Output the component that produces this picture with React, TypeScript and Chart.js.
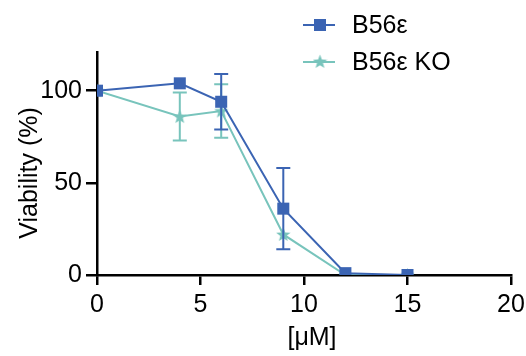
import { useEffect, useRef } from 'react';
import { Chart, registerables } from 'chart.js';

Chart.register(...registerables);

const concentrations = [0, 4, 6, 9, 12, 15];
const b56Values = [100, 104, 94, 36, 1, 0];
const b56Errors = [0, 0, 15, 22, 0, 0];
const koValues = [100, 86, 89, 22, 0, 0];
const koErrors = [0, 13, 14.5, 0, 0, 0];
const xTicks = [0, 5, 10, 15, 20];
const yTicks = [0, 50, 100];
const seriesNames = ['B56ε', 'B56ε KO'];
const xTitle = '[μM]';
const yTitle = 'Viability (%)';

const BLUE = '#3B64B3';
const TEAL = '#78C4BC';
const FONT = "'Liberation Sans', Arial, sans-serif";

function makeStar(color: string, size: number): HTMLCanvasElement {
  const c = document.createElement('canvas');
  c.width = size;
  c.height = size;
  const ctx = c.getContext('2d')!;
  const cx = size / 2;
  const cy = size / 2 + 0.5;
  const outer = size / 2;
  const inner = outer * 0.42;
  ctx.beginPath();
  for (let i = 0; i < 10; i++) {
    const r = i % 2 === 0 ? outer : inner;
    const a = -Math.PI / 2 + (i * Math.PI) / 5;
    const px = cx + r * Math.cos(a);
    const py = cy + r * Math.sin(a);
    if (i === 0) ctx.moveTo(px, py);
    else ctx.lineTo(px, py);
  }
  ctx.closePath();
  ctx.fillStyle = color;
  ctx.fill();
  return c;
}

export default function App() {
  const ref = useRef<HTMLCanvasElement | null>(null);

  useEffect(() => {
    document.body.style.margin = '0';
    const canvas = ref.current;
    if (!canvas) return;
    const star = makeStar(TEAL, 15);
    const errorSets = [b56Errors, koErrors];
    const valueSets = [b56Values, koValues];
    const colors = [BLUE, TEAL];

    const errorBars = {
      id: 'errorBars',
      beforeDatasetDraw(chart: any, args: any) {
        const i = args.index;
        const ctx = chart.ctx;
        const xs = chart.scales.x;
        const ys = chart.scales.y;
        ctx.save();
        ctx.strokeStyle = colors[i];
        ctx.lineWidth = 2;
        concentrations.forEach((c, j) => {
          const e = errorSets[i][j];
          if (!e) return;
          const v = valueSets[i][j];
          const x = xs.getPixelForValue(c);
          const yt = ys.getPixelForValue(v + e);
          const yb = ys.getPixelForValue(v - e);
          ctx.beginPath();
          ctx.moveTo(x, yt);
          ctx.lineTo(x, yb);
          ctx.moveTo(x - 7, yt);
          ctx.lineTo(x + 7, yt);
          ctx.moveTo(x - 7, yb);
          ctx.lineTo(x + 7, yb);
          ctx.stroke();
        });
        ctx.restore();
      },
    };

    const extras = {
      id: 'extras',
      afterDraw(chart: any) {
        const ctx = chart.ctx;
        ctx.save();
        ctx.fillStyle = '#000';
        ctx.font = `25px ${FONT}`;
        ctx.textAlign = 'center';
        ctx.textBaseline = 'middle';
        ctx.fillText(xTitle, 312, 338);
        ctx.save();
        ctx.translate(30, 173);
        ctx.rotate(-Math.PI / 2);
        ctx.fillText(yTitle, 0, 0);
        ctx.restore();
        // legend
        const rows = [25, 62];
        rows.forEach((y, i) => {
          ctx.strokeStyle = colors[i];
          ctx.lineWidth = 2;
          ctx.beginPath();
          ctx.moveTo(303, y);
          ctx.lineTo(335, y);
          ctx.stroke();
          if (i === 0) {
            ctx.fillStyle = BLUE;
            ctx.fillRect(320 - 6, y - 6, 12, 12);
          } else {
            ctx.drawImage(star, 320 - 7.5, y - 8);
          }
          ctx.fillStyle = '#000';
          ctx.textAlign = 'left';
          ctx.fillText(seriesNames[i], 352, y + 1);
        });
        ctx.restore();
      },
    };

    const chart = new Chart(canvas, {
      type: 'line',
      data: {
        datasets: [
          {
            label: seriesNames[0],
            data: concentrations.map((x, i) => ({ x, y: b56Values[i] })),
            borderColor: BLUE,
            backgroundColor: BLUE,
            borderWidth: 2,
            pointStyle: 'rect',
            pointRadius: 8.5,
            pointBorderWidth: 0,
          },
          {
            label: seriesNames[1],
            data: concentrations.map((x, i) => ({ x, y: koValues[i] })),
            borderColor: TEAL,
            backgroundColor: TEAL,
            borderWidth: 2,
            pointStyle: star as any,
            pointRadius: 7,
          },
        ],
      },
      options: {
        animation: false,
        responsive: false,
        layout: { padding: { top: 52, right: 15, left: 0, bottom: 0 } },
        plugins: { legend: { display: false }, tooltip: { enabled: false } },
        scales: {
          x: {
            type: 'linear',
            min: 0,
            max: 20,
            afterBuildTicks: (a: any) => {
              a.ticks = xTicks.map((v) => ({ value: v }));
            },
            afterFit: (a: any) => {
              a.height = 81;
              a.paddingRight = 0;
              a.paddingLeft = 0;
            },
            grid: { drawOnChartArea: false, drawTicks: true, tickLength: 10, color: '#000', lineWidth: 2.5 },
            border: { color: '#000', width: 2.5 },
            ticks: { font: { family: FONT, size: 25 }, color: '#000', padding: 5, maxRotation: 0 },
          },
          y: {
            type: 'linear',
            min: 0,
            max: 121,
            afterBuildTicks: (a: any) => {
              a.ticks = yTicks.map((v) => ({ value: v }));
            },
            afterFit: (a: any) => {
              a.width = 97;
            },
            grid: { drawOnChartArea: false, drawTicks: true, tickLength: 11, color: '#000', lineWidth: 2.5 },
            border: { color: '#000', width: 2.5 },
            ticks: { font: { family: FONT, size: 25 }, color: '#000', padding: 4 },
          },
        },
      },
      plugins: [errorBars, extras],
    });
    return () => chart.destroy();
  }, []);

  return (
    <div style={{ width: 526, height: 356 }}>
      <canvas ref={ref} width={526} height={356} style={{ display: 'block', width: 526, height: 356 }} />
    </div>
  );
}
